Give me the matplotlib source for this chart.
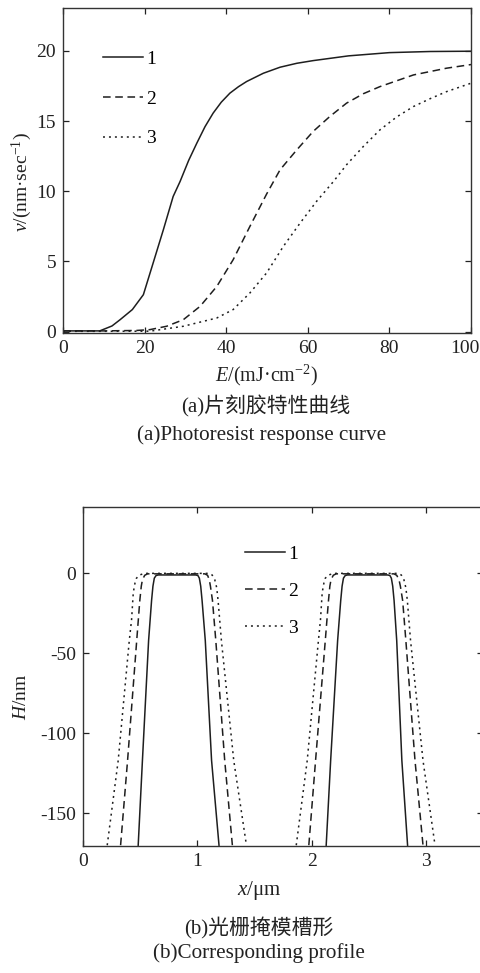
import matplotlib
matplotlib.use("Agg")
import matplotlib.pyplot as plt
from matplotlib.transforms import ScaledTranslation

# (a) photoresist response curves: exposure dose E vs. development rate v
E1 = [0, 5, 9, 12, 14, 17, 19.7, 22, 24.6, 27, 28.7, 30.8, 32.8, 34.8, 36.8, 38.8, 40.9,
      43, 45, 49.1, 53.2, 57.3, 61.3, 70, 80, 90, 100]
v1 = [0.05, 0.05, 0.05, 0.4, 0.85, 1.57, 2.63, 4.8, 7.26, 9.63, 10.7, 12.2, 13.43, 14.6,
      15.57, 16.35, 16.99, 17.45, 17.82, 18.41, 18.84, 19.12, 19.31, 19.65, 19.88, 19.96,
      19.98]

E2 = [0, 10, 18, 21.3, 25.4, 29.5, 33.6, 37.7, 41.7, 45.8, 49.9, 53.2, 57.3, 61.3,
      65.4, 69.5, 73.6, 77.7, 85.9, 94, 100]
v2 = [0.05, 0.05, 0.08, 0.14, 0.38, 0.85, 1.8, 3.22, 5.12, 7.49, 9.8, 11.53, 12.95,
      14.26, 15.33, 16.28, 16.95, 17.46, 18.29, 18.77, 19.03]

E3 = [0, 10, 21.3, 29.5, 37.7, 41.7, 45.8, 49.9, 54, 58.1, 62.2, 66.3, 69.5, 73.6,
      77.7, 81.8, 85.9, 90, 94, 100]
v3 = [0.02, 0.02, 0.03, 0.38, 0.97, 1.57, 2.75, 4.18, 6.07, 7.73, 9.3, 10.7, 11.89,
      13.19, 14.38, 15.3, 16.04, 16.6, 17.1, 17.7]

# (b) resulting grating profiles, two lines per curve
x1_a = [0.483, 0.52, 0.574, 0.600, 0.612, 0.624, 0.64, 0.66, 0.985, 1.005, 1.018,
        1.030, 1.042, 1.070, 1.125, 1.19]
x1_b = [2.128, 2.167, 2.228, 2.255, 2.267, 2.279, 2.295, 2.315, 2.665, 2.685, 2.698,
        2.71, 2.722, 2.745, 2.79, 2.84]
h1 = [-170, -117, -42, -17, -8, -3, -1.3, -1, -1, -1.3, -3, -8, -17, -42, -117, -170]

x2_a = [0.329, 0.39, 0.47, 0.497, 0.51, 0.52, 0.54, 0.565, 1.066, 1.09, 1.105, 1.115,
        1.133, 1.162, 1.24, 1.307]
x2_b = [1.976, 2.035, 2.12, 2.148, 2.16, 2.17, 2.19, 2.215, 2.72, 2.745, 2.765, 2.777,
        2.797, 2.825, 2.905, 2.975]
h2 = [-170, -117, -42, -17, -8, -4, -1.2, -0.3, -0.3, -1.2, -4, -8, -17, -42, -117, -170]

x3_a = [0.212, 0.308, 0.405, 0.425, 0.44, 0.455, 0.468, 0.495, 0.54, 1.095, 1.13,
        1.153, 1.17, 1.182, 1.211, 1.319, 1.43]
x3_b = [1.866, 1.962, 2.06, 2.078, 2.093, 2.108, 2.12, 2.15, 2.195, 2.75, 2.785, 2.808,
        2.825, 2.838, 2.866, 2.975, 3.08]
h3 = [-170, -117, -42, -29, -12, -6, -3, -1, 0, 0, -1, -4, -9, -17, -42, -117, -170]

labels = ["1", "2", "3"]

SERIF = ["Liberation Serif", "Noto Sans CJK SC", "DejaVu Sans"]
plt.rcParams["font.family"] = SERIF
plt.rcParams["mathtext.fontset"] = "custom"
plt.rcParams["mathtext.rm"] = "Liberation Serif"
plt.rcParams["mathtext.it"] = "Liberation Serif:italic"
plt.rcParams["axes.unicode_minus"] = False

W, H = 481, 973
LINE = "#1e1e1e"
styles = ["-", (0, (5, 3)), (0, (1.3, 2.6))]
FS = 14

fig = plt.figure(figsize=(W / 100, H / 100), dpi=100)


def px_axes(left, top, right, bottom):
    return fig.add_axes([left / W, 1 - bottom / H, (right - left) / W, (bottom - top) / H])


def style_axes(ax):
    for s in ax.spines.values():
        s.set_linewidth(1.0)
        s.set_color("#333333")
    ax.tick_params(direction="in", length=4, width=0.9, top=True, right=True,
                   labelsize=FS, colors="#222222", pad=5)


def ftext(x, y, s, **kw):
    fig.text(x / W, 1 - y / H, s, ha="center", va="center", color="#222222", **kw)


# top panel
ax1 = px_axes(63, 8, 471, 333)
for E, v, ls, lab in zip([E1, E2, E3], [v1, v2, v3], styles, labels):
    ax1.plot(E, v, color=LINE, lw=1.1, linestyle=ls, label=lab)
ax1.set_xlim(0, 100)
ax1.set_ylim(-0.1, 23.06)
ax1.set_xticks([0, 20, 40, 60, 80, 100])
ax1.set_yticks([0, 5, 10, 15, 20])
style_axes(ax1)
# last x label sits a little left so it stays inside the picture
last = ax1.get_xticklabels()[-1]
last.set_transform(last.get_transform() + ScaledTranslation(-0.06, 0, fig.dpi_scale_trans))
ax1.legend(loc="upper left", bbox_to_anchor=(0.098, 0.871), frameon=False, fontsize=FS,
           handlelength=2.05, handletextpad=0.15, labelspacing=1.15, borderpad=0,
           borderaxespad=0)

ftext(22, 182, r"$v$/(nm·sec$^{-1}$)", rotation=90, fontsize=FS)
ftext(267, 375, r"$E$/(mJ·cm$^{-2}$)", fontsize=14.5)
ftext(266, 406, "(a)片刻胶特性曲线", fontsize=15)
ftext(262, 435, "(a)Photoresist response curve", fontsize=15.2)

# bottom panel
ax2 = px_axes(83, 507, 483, 846)
for xa, xb, h, ls, lab in zip([x1_a, x2_a, x3_a], [x1_b, x2_b, x3_b], [h1, h2, h3],
                              styles, labels):
    ax2.plot(xa, h, color=LINE, lw=1.1, linestyle=ls, label=lab)
    ax2.plot(xb, h, color=LINE, lw=1.1, linestyle=ls)
ax2.set_xlim(0, 3.5)
ax2.set_ylim(-170.5, 41.5)
ax2.set_xticks([0, 1, 2, 3])
ax2.set_yticks([0, -50, -100, -150])
style_axes(ax2)
ax2.legend(loc="upper left", bbox_to_anchor=(0.405, 0.888), frameon=False, fontsize=FS,
           handlelength=2.05, handletextpad=0.15, labelspacing=1.0, borderpad=0,
           borderaxespad=0)

ftext(22, 697, r"$H$/nm", rotation=90, fontsize=FS)
ftext(259, 890, r"$x$/μm", fontsize=15)
ftext(259, 928, "(b)光栅掩模槽形", fontsize=15)
ftext(259, 953, "(b)Corresponding profile", fontsize=15.2)

fig.savefig("out.png", dpi=100)
